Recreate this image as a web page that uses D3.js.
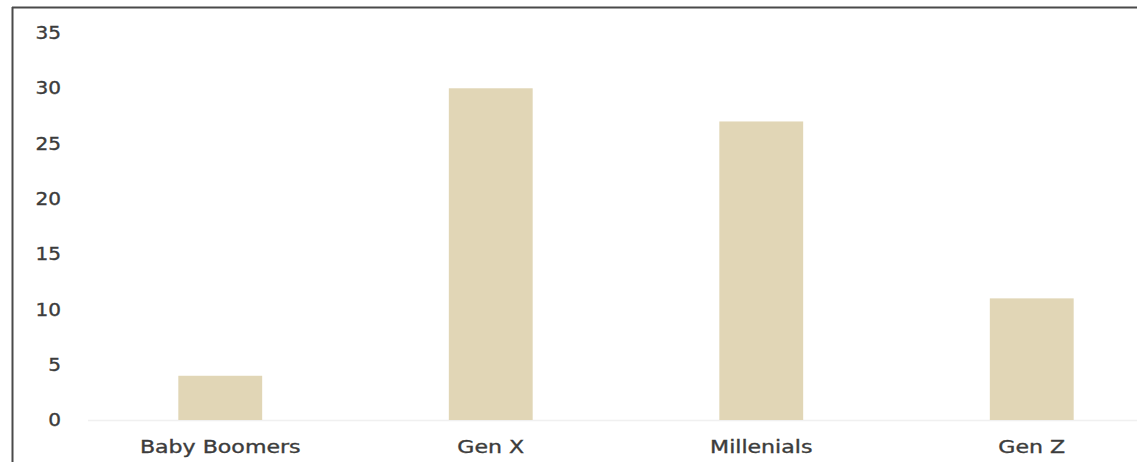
<!DOCTYPE html>
<html>
<head>
<meta charset="utf-8">
<script src="https://cdn.jsdelivr.net/npm/d3@7"></script>
<style>
  html, body { margin: 0; padding: 0; background: #fff; }
  svg { display: block; }
</style>
</head>
<body>
<svg id="chart" width="1137" height="462"></svg>
<script>
const categories = ["Baby Boomers", "Gen X", "Millenials", "Gen Z"];
const values = [4, 30, 27, 11];
const yTicks = [0, 5, 10, 15, 20, 25, 30, 35];

const svg = d3.select("#chart");
const W = 1137, H = 462;

svg.append("rect").attr("x", 0).attr("y", 0).attr("width", W).attr("height", H).attr("fill", "#fff");

// frame (top and left visible)
svg.append("line").attr("x1", 12).attr("x2", W).attr("y1", 7.5).attr("y2", 7.5)
  .attr("stroke", "#4a4a4a").attr("stroke-width", 2);
svg.append("line").attr("x1", 12.5).attr("x2", 12.5).attr("y1", 7).attr("y2", H)
  .attr("stroke", "#4a4a4a").attr("stroke-width", 2);

const x = d3.scaleBand().domain(categories).range([85, 1167])
  .paddingInner(0.69).paddingOuter(0.345);
const y = d3.scaleLinear().domain([0, 35]).range([420, 33]);

// baseline
svg.append("line").attr("x1", 88).attr("x2", W).attr("y1", y(0) + 0.5).attr("y2", y(0) + 0.5)
  .attr("stroke", "#f0f0f0").attr("stroke-width", 1.5);

// bars
svg.selectAll("rect.bar").data(values).enter().append("rect")
  .attr("class", "bar")
  .attr("x", (d, i) => x(categories[i]))
  .attr("width", x.bandwidth())
  .attr("y", d => y(d))
  .attr("height", d => y(0) - y(d))
  .attr("fill", "#e1d6b6");

// y tick labels
const yAxis = svg.append("g");
yAxis.selectAll("text").data(yTicks).enter().append("text")
  .attr("transform", d => `translate(61,${y(d)}) scale(1.18,1)`)
  .attr("text-anchor", "end")
  .attr("dy", "0.36em")
  .attr("font-family", "DejaVu Sans, Verdana, sans-serif")
  .attr("font-size", 17)
  .attr("fill", "#3c3c3c")
  .attr("stroke", "#3c3c3c")
  .attr("stroke-width", 0.35)
  .text(d => d);

// x labels
const xAxis = svg.append("g");
xAxis.selectAll("text").data(categories).enter().append("text")
  .attr("transform", d => `translate(${x(d) + x.bandwidth() / 2},453) scale(1.3,1)`)
  .attr("text-anchor", "middle")
  .attr("font-family", "DejaVu Sans, Verdana, sans-serif")
  .attr("font-size", 17)
  .attr("fill", "#3c3c3c")
  .attr("stroke", "#3c3c3c")
  .attr("stroke-width", 0.35)
  .text(d => d);
</script>
</body>
</html>
